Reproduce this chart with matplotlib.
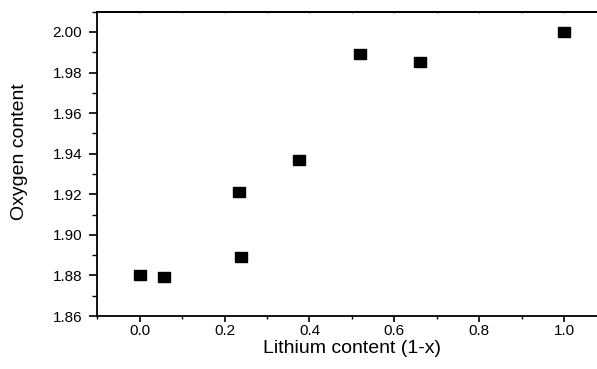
import matplotlib.pyplot as plt
from matplotlib.ticker import MultipleLocator, NullFormatter

plt.rcParams['font.family'] = ['Liberation Sans', 'DejaVu Sans']

# lithium content (1-x) vs oxygen content
lithium = [0.0, 0.057, 0.234, 0.238, 0.376, 0.52, 0.66, 1.0]
oxygen = [1.880, 1.879, 1.921, 1.889, 1.937, 1.989, 1.985, 2.000]

x_ticks = [0.0, 0.2, 0.4, 0.6, 0.8, 1.0]
y_ticks = [1.86, 1.88, 1.90, 1.92, 1.94, 1.96, 1.98, 2.00]

fig = plt.figure(figsize=(5.97, 3.69), dpi=100)
ax = fig.add_axes([0.163, 0.1436, 0.853, 0.8247])

# wide rectangle marker, like the original
rect = [(-1, -0.72), (1, -0.72), (1, 0.72), (-1, 0.72), (-1, -0.72)]
ax.plot(lithium, oxygen, linestyle='none', marker=rect, markersize=9.2,
        color='black')

ax.set_xlim(-0.1, 1.1)
ax.set_ylim(1.86, 2.01)
ax.set_xticks(x_ticks)
ax.set_yticks(y_ticks)
ax.set_xticklabels([f"{v:.1f}" for v in x_ticks])
ax.set_yticklabels([f"{v:.2f}" for v in y_ticks])
ax.xaxis.set_minor_locator(MultipleLocator(0.1))
ax.yaxis.set_minor_locator(MultipleLocator(0.01))

for s in ax.spines.values():
    s.set_linewidth(1.3)
ax.spines['right'].set_visible(False)

ax.tick_params(which='major', direction='out', length=6, width=1.2,
               labelsize=11, pad=5)
ax.tick_params(which='minor', direction='out', length=3.5, width=1.0)
ax.tick_params(axis='x', which='major', length=4, pad=1.5)
ax.tick_params(axis='x', which='minor', length=2.5)

# tiny ticks on the top line
top = ax.secondary_xaxis('top')
top.set_xticks([i / 10 for i in range(-1, 12)])
top.xaxis.set_major_formatter(NullFormatter())
top.tick_params(direction='inout', length=2, width=0.8, color='0.4')
top.spines['top'].set_linewidth(1.3)

ax.set_xlabel("Lithium content (1-x)", fontsize=14)
ax.set_ylabel("Oxygen content", fontsize=14)
ax.xaxis.set_label_coords(0.5, -0.078)
ax.yaxis.set_label_coords(-0.136, 0.539)

plt.savefig("out.png", dpi=100)
plt.close()
